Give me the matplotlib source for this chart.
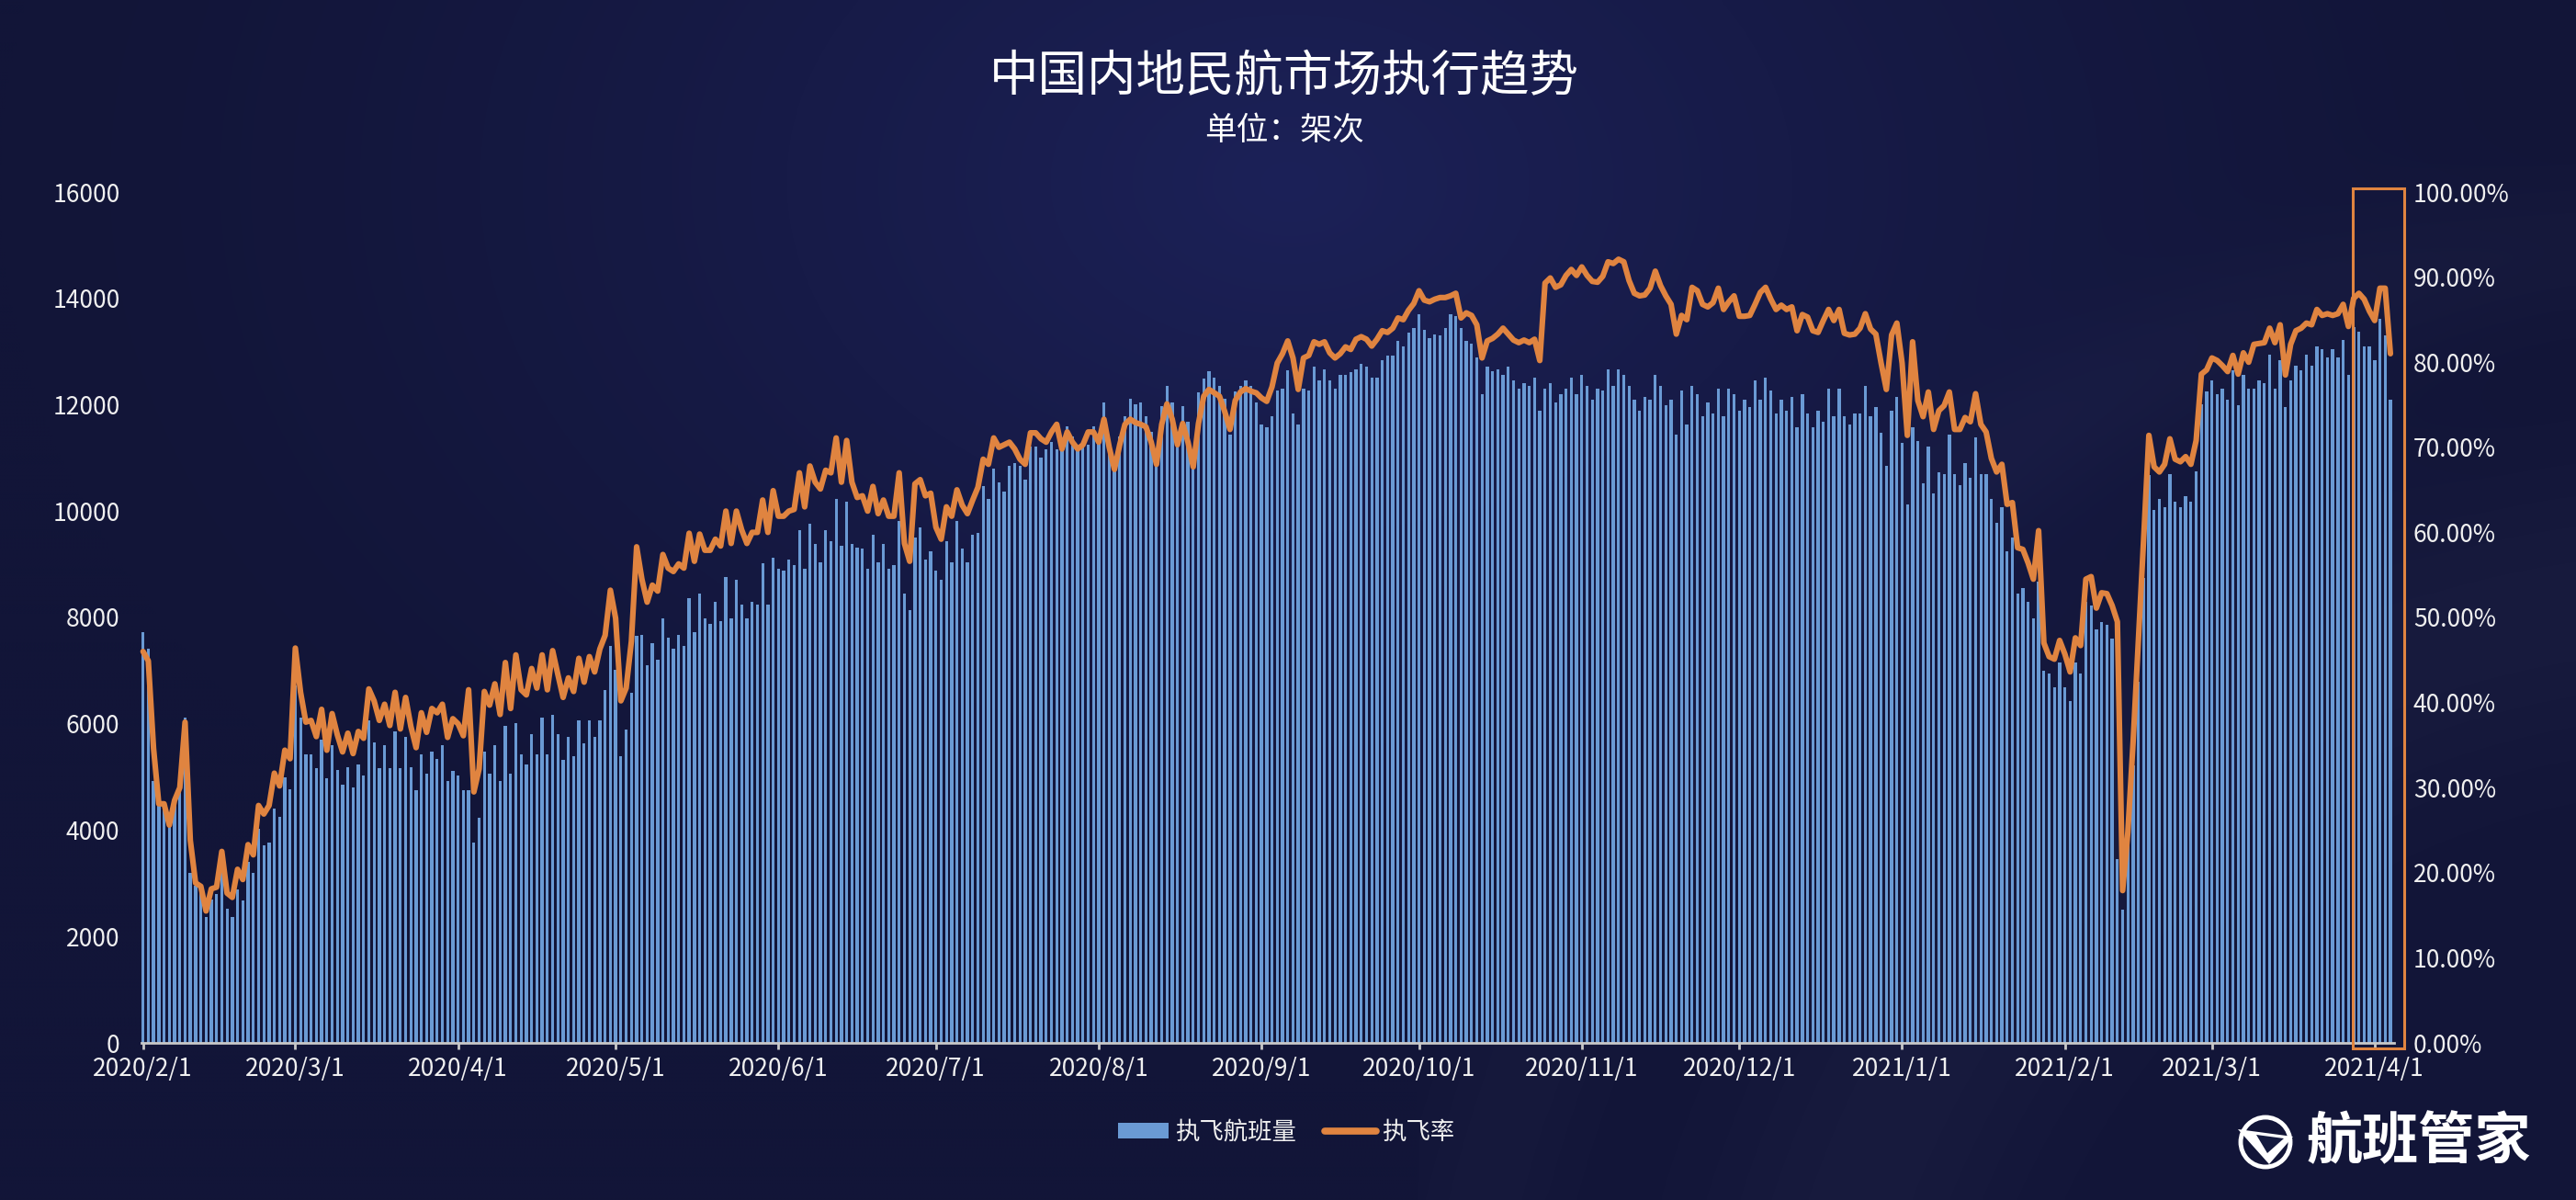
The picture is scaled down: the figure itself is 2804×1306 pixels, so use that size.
import numpy as np
import pandas as pd
import matplotlib
matplotlib.use('Agg')
import matplotlib.pyplot as plt
from matplotlib.patches import Rectangle, Patch, Circle, Polygon
from matplotlib.lines import Line2D

plt.rcParams['font.family'] = ['Noto Sans CJK SC', 'DejaVu Sans']

# ---------------- data ----------------
title = '中国内地民航市场执行趋势'
subtitle = '单位：架次'
bar_name = '执飞航班量'
line_name = '执飞率'
brand = '航班管家'

start_date = '2020-02-01'
end_date = '2021-04-04'

flights = [
    7730, 7410, 4930, 4490, 4460, 4180, 4560, 4740, 6110, 3200,
    2950, 2830, 2360, 2700, 2800, 3540, 2520, 2360, 2890, 2670,
    3410, 3200, 4030, 3720, 3770, 4400, 4250, 4990, 4770, 6720,
    6110, 5430, 5430, 5170, 5700, 4970, 5600, 5130, 4860, 5180,
    4810, 5230, 5020, 6070, 5650, 5170, 5590, 5170, 5860, 5170,
    5750, 5180, 4760, 5430, 5070, 5480, 5340, 5590, 4920, 5120,
    5020, 4760, 4760, 3770, 4230, 5480, 5070, 5590, 4920, 5960,
    5070, 6010, 5430, 5230, 5800, 5430, 6120, 5430, 6170, 5800,
    5330, 5750, 5390, 6060, 5640, 6060, 5750, 6060, 6630, 7470,
    7010, 5390, 5900, 6580, 7660, 7680, 7100, 7520, 7210, 7990,
    7620, 7420, 7680, 7470, 8360, 7730, 8450, 7980, 7880, 8290,
    7930, 8760, 7980, 8710, 8240, 7980, 8290, 8240, 9020, 8240,
    9130, 8920, 8880, 9080, 8980, 9650, 8920, 9760, 9390, 9030,
    9650, 9440, 10230, 9340, 10170, 9390, 9320, 9290, 8920, 9550,
    9030, 9390, 8920, 8980, 9810, 8450, 8140, 9500, 9700, 9080,
    9240, 8880, 8710, 9440, 9030, 9810, 9290, 9030, 9550, 9590,
    10470, 10230, 10800, 10540, 10370, 10850, 10900, 10850, 10590, 11210,
    11210, 11000, 11160, 11300, 11160, 11350, 11600, 11400, 11160, 11250,
    11250, 11590, 11300, 12040, 11250, 10830, 11400, 11780, 12110, 12010,
    12040, 11780, 11490, 11020, 11980, 12360, 12040, 11300, 11980, 11680,
    10830, 12230, 12490, 12630, 12510, 12360, 12110, 11430, 12250, 12360,
    12460, 12360, 12050, 11630, 11580, 11780, 12260, 12300, 12640, 11830,
    11630, 12300, 12260, 12720, 12460, 12670, 12460, 12310, 12560, 12560,
    12610, 12670, 12770, 12720, 12510, 12510, 12830, 12930, 12930, 13200,
    13090, 13350, 13440, 13710, 13410, 13250, 13330, 13300, 13440, 13710,
    13660, 13440, 13200, 13150, 12890, 12200, 12720, 12630, 12670, 12560,
    12720, 12460, 12300, 12410, 12360, 12510, 11880, 12310, 12410, 12050,
    12200, 12310, 12510, 12200, 12560, 12360, 12100, 12310, 12260, 12670,
    12360, 12670, 12560, 12360, 12100, 11880, 12150, 12100, 12560, 12360,
    12000, 12100, 11430, 12260, 11630, 12360, 12200, 11780, 12050, 11830,
    12310, 11780, 12310, 12200, 11880, 12100, 11950, 12460, 12100, 12510,
    12260, 11830, 12100, 11880, 12150, 11580, 12200, 11830, 11580, 11880,
    11680, 12310, 11780, 12310, 11780, 11630, 11830, 11830, 12360, 11780,
    11950, 11480, 10850, 11880, 12150, 11280, 10130, 11580, 11310, 10530,
    11210, 10330, 10730, 10700, 11430, 10700, 10480, 10900, 10630, 11380,
    10700, 10700, 10230, 9780, 10080, 9250, 9500, 8450, 8550, 8300,
    7990, 8680, 6990, 6950, 6690, 7150, 6690, 6420, 7150, 6950,
    8300, 8220, 7770, 7920, 7870, 7600, 3460, 2510, 3910, 5210,
    6790, 8750, 10680, 10030, 10230, 10080, 10700, 10180, 10080, 10280,
    10180, 10750, 12010, 12250, 12460, 12200, 12310, 12100, 12640, 12000,
    12560, 12310, 12310, 12460, 12410, 12940, 12310, 12840, 11950, 12460,
    12740, 12640, 12940, 12740, 13090, 13040, 12890, 13040, 12890, 13210,
    12560, 13460, 13370, 13090, 13090, 12840, 13610, 13310, 12100,
]

rate_pct = [
    46.0, 44.9, 34.6, 28.1, 28.1, 25.6, 28.5, 30.0, 37.7, 23.8,
    18.8, 18.4, 15.5, 18.1, 18.3, 22.5, 17.6, 17.1, 20.4, 19.2,
    23.3, 22.1, 27.9, 26.9, 27.9, 31.7, 30.2, 34.4, 33.4, 46.4,
    41.2, 37.7, 37.9, 36.0, 39.2, 34.4, 38.7, 36.2, 34.2, 36.4,
    34.0, 36.6, 35.8, 41.6, 40.2, 37.9, 39.8, 37.3, 41.2, 36.9,
    40.6, 37.2, 34.7, 38.8, 36.5, 39.3, 38.8, 39.8, 35.9, 38.1,
    37.5, 36.1, 41.5, 29.5, 32.2, 41.3, 39.7, 42.2, 38.6, 44.7,
    39.3, 45.6, 41.5, 40.9, 44.0, 41.7, 45.6, 41.5, 46.1, 43.3,
    40.6, 42.9, 41.3, 45.2, 42.4, 45.4, 43.6, 46.3, 47.9, 53.2,
    49.9, 40.2, 41.7, 47.2, 58.3, 54.5, 51.8, 53.8, 53.1, 57.4,
    55.8, 55.4, 56.3, 55.8, 59.9, 56.6, 59.8, 57.9, 57.9, 59.2,
    58.4, 62.5, 58.7, 62.5, 60.3, 58.7, 60.0, 60.0, 63.8, 60.0,
    64.9, 61.9, 61.9, 62.5, 62.7, 67.0, 63.0, 67.8, 65.9, 65.1,
    67.3, 67.0, 71.1, 65.9, 70.8, 65.9, 64.1, 64.3, 62.5, 65.4,
    62.2, 63.8, 61.9, 61.9, 67.0, 58.7, 56.6, 65.7, 66.2, 64.3,
    64.6, 60.6, 59.2, 63.0, 61.9, 65.0, 63.2, 62.2, 63.8, 65.3,
    68.6, 68.0, 71.1, 70.0, 70.3, 70.6, 69.8, 68.6, 68.0, 71.7,
    71.7, 71.0, 70.6, 71.8, 72.7, 69.8, 71.8, 70.6, 69.8, 70.3,
    71.8, 71.8, 70.6, 73.3, 70.0, 67.4, 70.3, 72.7, 73.3, 72.9,
    72.7, 72.4, 70.6, 68.0, 72.7, 75.1, 73.3, 70.3, 72.8, 70.6,
    67.7, 72.8, 76.0, 76.8, 76.4, 76.0, 74.2, 72.1, 75.5, 76.5,
    76.9, 76.6, 76.4, 75.8, 75.4, 77.1, 79.9, 81.0, 82.5, 80.5,
    76.8, 80.5, 80.8, 82.4, 82.1, 82.4, 81.1, 80.5, 81.0, 81.8,
    81.5, 82.7, 83.0, 82.7, 81.9, 82.7, 83.7, 83.5, 84.0, 85.2,
    85.0, 86.1, 86.9, 88.4, 87.3, 87.1, 87.4, 87.6, 87.6, 87.8,
    88.1, 85.2, 85.8, 85.5, 84.4, 80.5, 82.5, 82.8, 83.3, 84.0,
    83.3, 82.6, 82.3, 82.6, 82.3, 82.7, 80.2, 89.3, 89.9, 88.8,
    89.1, 90.2, 90.9, 90.2, 91.2, 90.2, 89.5, 89.4, 90.1, 91.8,
    91.6, 92.1, 91.8, 89.6, 88.1, 87.8, 87.9, 88.7, 90.7, 89.0,
    87.8, 86.8, 83.3, 85.5, 85.0, 88.8, 88.4, 86.8, 86.5, 87.0,
    88.7, 86.2, 87.1, 87.8, 85.4, 85.4, 85.5, 86.8, 88.2, 88.8,
    87.4, 86.2, 86.7, 86.2, 86.5, 83.7, 85.6, 85.3, 83.7, 83.5,
    84.9, 86.2, 84.9, 86.2, 83.4, 83.2, 83.3, 84.0, 85.7, 83.9,
    83.3, 79.9, 76.8, 83.2, 84.6, 79.9, 71.4, 82.4, 75.5, 73.6,
    76.5, 72.1, 74.3, 74.9, 76.5, 72.1, 72.1, 73.5, 73.0, 76.3,
    72.7, 71.8, 68.7, 67.1, 68.0, 63.3, 63.5, 58.2, 58.0, 56.4,
    54.5, 60.2, 47.0, 45.4, 45.1, 47.3, 45.7, 43.6, 47.6, 46.7,
    54.5, 54.8, 51.1, 52.9, 52.8, 51.4, 49.5, 17.9, 24.8, 35.4,
    47.3, 59.2, 71.4, 67.7, 67.1, 68.0, 71.0, 68.6, 68.3, 68.9,
    68.0, 70.8, 78.6, 79.1, 80.5, 80.2, 79.6, 78.9, 80.8, 78.6,
    81.1, 80.0, 82.1, 82.2, 82.3, 84.0, 82.3, 84.4, 78.5, 82.1,
    83.7, 84.0, 84.6, 84.4, 86.2, 85.5, 85.7, 85.5, 85.7, 86.8,
    84.2, 87.5, 88.1, 87.4, 86.0, 84.9, 88.7, 88.7, 81.0,
]

tick_dates = ['2020-02-01', '2020-03-01', '2020-04-01', '2020-05-01', '2020-06-01',
              '2020-07-01', '2020-08-01', '2020-09-01', '2020-10-01', '2020-11-01',
              '2020-12-01', '2021-01-01', '2021-02-01', '2021-03-01', '2021-04-01']
tick_labels = ['2020/2/1', '2020/3/1', '2020/4/1', '2020/5/1', '2020/6/1',
               '2020/7/1', '2020/8/1', '2020/9/1', '2020/10/1', '2020/11/1',
               '2020/12/1', '2021/1/1', '2021/2/1', '2021/3/1', '2021/4/1']
left_ticks = [0, 2000, 4000, 6000, 8000, 10000, 12000, 14000, 16000]
right_ticks = [0, 10, 20, 30, 40, 50, 60, 70, 80, 90, 100]

highlight_start = '2021-03-28'
highlight_end = '2021-04-06'

# ---------------- style ----------------
BG = '#141a3f'
BAR_C = '#6a9ad4'
LINE_C = '#e08440'
TEXT_C = '#f0f0f0'
AXIS_C = '#c8c8c8'

W_PX, H_PX = 2804, 1306
fig = plt.figure(figsize=(W_PX / 100, H_PX / 100), dpi=100)
fig.patch.set_facecolor(BG)

# background gradient (decorative)
bg_ax = fig.add_axes([0, 0, 1, 1], zorder=-10)
gh, gw = 327, 701
yy, xx = np.mgrid[0:gh, 0:gw]
xn = xx / gw
yn = yy / gh
base = np.array([18, 21, 56]) / 255.0
glow = np.array([28, 33, 88]) / 255.0
dist = np.sqrt(((xn - 0.5) / 0.5) ** 2 + ((yn - 0.15) / 0.75) ** 2)
t = np.clip(1 - dist, 0, 1) ** 1.4
img = base[None, None, :] + (glow - base)[None, None, :] * t[..., None]
r1 = np.sqrt(((xn - 1.05) * 2.15) ** 2 + (yn - 1.25) ** 2)
band = 0.022 * np.exp(-((r1 - 0.75) / 0.12) ** 2) * (xn > 0.6)
band += 0.015 * np.exp(-((r1 - 1.05) / 0.06) ** 2) * (xn > 0.55)
img = np.clip(img + band[..., None], 0, 1)
bg_ax.imshow(img, aspect='auto', extent=[0, 1, 0, 1], origin='upper', interpolation='bilinear')
bg_ax.set_xlim(0, 1)
bg_ax.set_ylim(0, 1)
bg_ax.axis('off')

# main axes
x_left, x_right = 154, 2606
y_top, y_bot = 209, 1135
ax = fig.add_axes([x_left / W_PX, 1 - y_bot / H_PX, (x_right - x_left) / W_PX, (y_bot - y_top) / H_PX])
ax.set_facecolor('none')

dates = pd.date_range(start_date, end_date, freq='D')
t0 = dates[0]
xs = np.array([(d - t0).days for d in dates], dtype=float)

ax.bar(xs, flights, width=0.58, color=BAR_C, zorder=2, clip_on=False)
ax.set_ylim(0, 16000)
ax.set_xlim(-0.3, 428.7)

ax2 = ax.twinx()
ax2.plot(xs, np.array(rate_pct) / 100.0, color=LINE_C, lw=4.4, solid_joinstyle='round',
         solid_capstyle='round', zorder=3, clip_on=False)
ax2.set_ylim(0, 1)
ax2.set_xlim(-0.3, 428.7)

# highlight rectangle
hx0 = (pd.Timestamp(highlight_start) - t0).days - 0.1
hx1 = (pd.Timestamp(highlight_end) - t0).days + 0.7
ax2.add_patch(Rectangle((hx0, -0.006), hx1 - hx0, 1.01, fill=False, edgecolor=LINE_C,
                        lw=2.2, zorder=4, clip_on=False))

# axes styling
for a in (ax, ax2):
    for s in a.spines.values():
        s.set_visible(False)
ax.spines['bottom'].set_visible(True)
ax.spines['bottom'].set_color(AXIS_C)
ax.spines['bottom'].set_linewidth(2.0)

tick_x = [(pd.Timestamp(d) - t0).days for d in tick_dates]
ax.set_xticks(tick_x)
ax.set_xticklabels(tick_labels)
ax.tick_params(axis='x', direction='out', length=5, width=2, color=AXIS_C,
               labelsize=19, labelcolor=TEXT_C, pad=6)

ax.set_yticks(left_ticks)
ax.set_yticklabels([str(v) for v in left_ticks])
ax.tick_params(axis='y', length=0, labelsize=19, labelcolor=TEXT_C, pad=17)

ax2.set_yticks([v / 100 for v in right_ticks])
ax2.set_yticklabels(['%.2f%%' % v for v in right_ticks])
ax2.tick_params(axis='y', length=0, labelsize=19, labelcolor=TEXT_C, pad=15)

# titles
fig.text(1398 / W_PX, 1 - 84 / H_PX, title, ha='center', va='center', fontsize=38.5, color='white')
fig.text(1398 / W_PX, 1 - 142 / H_PX, subtitle, ha='center', va='center', fontsize=25, color='white')

# legend
handles = [Patch(facecolor=BAR_C, edgecolor='none', label=bar_name),
           Line2D([0], [0], color=LINE_C, lw=5.5, solid_capstyle='round', label=line_name)]
leg = fig.legend(handles=handles, loc='center', bbox_to_anchor=(1400 / W_PX, 1 - 1232 / H_PX),
                 ncol=2, frameon=False, fontsize=19, handlelength=2.1, handleheight=0.6,
                 handletextpad=0.25, columnspacing=1.2)
for txt in leg.get_texts():
    txt.set_color(TEXT_C)

# brand logo (decorative)
logo_ax = fig.add_axes([0, 0, 1, 1], zorder=5)
logo_ax.set_xlim(0, W_PX)
logo_ax.set_ylim(H_PX, 0)
logo_ax.axis('off')
cx, cy, rr = 2466, 1243, 27
logo_ax.add_patch(Circle((cx, cy), rr, fill=False, edgecolor='white', lw=3.5))
logo_ax.add_patch(Polygon([[cx - 30, cy - 14], [cx + 30, cy - 6], [cx + 4, cy + 24]],
                          closed=True, facecolor='white', edgecolor='none'))
logo_ax.add_patch(Polygon([[cx - 10, cy - 8], [cx + 20, cy - 4], [cx + 2, cy + 12]],
                          closed=True, facecolor=BG, edgecolor='none'))
logo_ax.text(2511, 1243, brand, ha='left', va='center', fontsize=44, color='white', fontweight='bold')

fig.savefig('out.png', dpi=100, facecolor=fig.get_facecolor())
